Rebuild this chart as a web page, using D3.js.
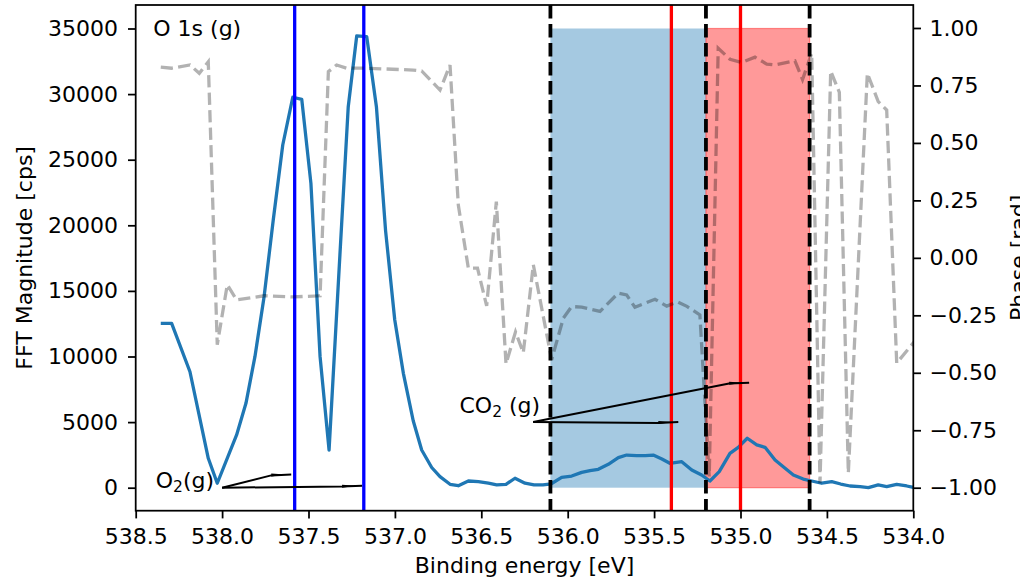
<!DOCTYPE html>
<html>
<head>
<meta charset="utf-8">
<script src="https://cdn.jsdelivr.net/npm/d3@7"></script>
<style>
  body { margin: 0; background: #fff; }
  svg { display: block; font-family: "DejaVu Sans", sans-serif; }
</style>
</head>
<body>
<div id="graph"></div>
<script>
// FFT magnitude spectrum (binding energy in eV, magnitude in cps)
var specEnergy = [538.355, 538.292, 538.186, 538.080, 538.028, 537.916, 537.862, 537.810, 537.757, 537.704,
                  537.649, 537.591, 537.539, 537.486, 537.433, 537.381, 537.322, 537.270, 537.221, 537.163,
                  537.107, 537.054, 537.001, 536.951, 536.894, 536.845, 536.787, 536.739, 536.681, 536.633,
                  536.575, 536.517, 536.459, 536.411, 536.357, 536.305, 536.247, 536.195, 536.143, 536.095,
                  536.035, 535.977, 535.919, 535.871, 535.823, 535.765, 535.707, 535.659, 535.601, 535.551,
                  535.505, 535.455, 535.409, 535.340, 535.282, 535.225, 535.177, 535.123, 535.061, 535.013,
                  534.961, 534.906, 534.858, 534.800, 534.742, 534.694, 534.637, 534.588, 534.530, 534.472,
                  534.420, 534.366, 534.308, 534.260, 534.203, 534.154, 534.096, 534.038, 533.990]
var specCps    = [12530, 12530, 8840, 2240, 340, 4020, 6430, 9990, 14560, 20400,
                  26120, 29760, 29600, 23200, 9990, 2870, 16850, 29040, 34430, 34380,
                  29040, 19600, 12800, 8720, 5100, 2870, 1540, 840, 260, 150,
                  510, 460, 340, 210, 260, 720, 340, 210, 220, 300,
                  790, 890, 1170, 1300, 1400, 1780, 2290, 2490, 2440, 2440,
                  2490, 2190, 1860, 1980, 1350, 970, 510, 1220, 2620, 3080,
                  3770, 3260, 3080, 2110, 1480, 970, 660, 510, 340, 460,
                  280, 130, 80, 0, 210, 80, 260, 130, 0]

// phase (right axis, rad)
var phaseEnergy = [538.355, 538.292, 538.186, 538.132, 538.080, 538.028, 537.970, 537.916, 537.757, 537.591,
                   537.433, 537.385, 537.337, 537.279, 537.163, 536.894, 536.845, 536.739, 536.681, 536.633,
                   536.575, 536.522, 536.469, 536.413, 536.357, 536.302, 536.257, 536.199, 536.093, 536.025,
                   535.977, 535.919, 535.813, 535.707, 535.659, 535.611, 535.495, 535.427, 535.365, 535.310,
                   535.235, 535.181, 535.129, 535.061, 534.993, 534.916, 534.848, 534.800, 534.685, 534.641,
                   534.588, 534.540, 534.478, 534.428, 534.376, 534.266, 534.203, 534.154, 534.096, 533.990]
var phaseRad    = [0.830, 0.825, 0.839, 0.803, 0.853, -0.378, -0.117, -0.183, -0.165, -0.170,
                   -0.165, 0.810, 0.839, 0.825, 0.825, 0.817, 0.813, 0.730, 0.839, 0.230,
                   -0.045, -0.045, -0.209, 0.245, -0.461, -0.322, -0.413, -0.030, -0.443, -0.262,
                   -0.212, -0.214, -0.233, -0.153, -0.161, -0.215, -0.180, -0.210, -0.191, -0.211,
                   -0.248, -0.951, 0.912, 0.864, 0.850, 0.873, 0.843, 0.839, 0.857, 0.776,
                   0.890, -0.980, 0.813, 0.720, -0.936, 0.803, 0.680, 0.643, -0.458, -0.361]

// marker lines (eV)
var o2Peaks     = [537.58, 537.18]
var co2Peaks    = [535.4, 535.0]
var regionEdges = [536.1, 535.2, 534.6]
var regionTop   = 35000

// annotations: label anchor and arrow targets (eV, cps)
var o2Anchor   = [538.0, 0]
var o2Targets  = [[537.6, 1000], [537.19, 150]]
var co2Anchor  = [536.2, 5000]
var co2Targets = [[535.36, 5000], [534.95, 8000]]

var xTicks     = [538.5, 538.0, 537.5, 537.0, 536.5, 536.0, 535.5, 535.0, 534.5, 534.0]
var leftTicks  = [0, 5000, 10000, 15000, 20000, 25000, 30000, 35000]
var rightTicks = [-1.0, -0.75, -0.5, -0.25, 0.0, 0.25, 0.5, 0.75, 1.0]

var width = 1020, height = 582
var pL = 135.7, pR = 913.3, pT = 5, pB = 510.7

var svg = d3.select("#graph").append("svg")
            .attr("width", width).attr("height", height)

var x  = d3.scaleLinear().domain([538.5, 534.0]).range([pL, pR])
var yL = d3.scaleLinear().domain([-1753, 36791]).range([pB, pT])
var yR = d3.scaleLinear().domain([-1.1, 1.1]).range([pB, pT])

svg.append("clipPath").attr("id", "plotClip")
   .append("rect").attr("x", pL).attr("y", pT)
   .attr("width", pR - pL).attr("height", pB - pT)

var plot = svg.append("g").attr("clip-path", "url(#plotClip)")

// shaded regions
var regionFill = ["rgba(31,119,180,0.4)", "rgba(255,0,0,0.4)"]
d3.pairs(regionEdges).forEach(function(p, i) {
    plot.append("rect")
        .attr("x", x(p[0])).attr("width", x(p[1]) - x(p[0]))
        .attr("y", yL(regionTop)).attr("height", yL(0) - yL(regionTop))
        .attr("fill", regionFill[i])
        .attr("stroke", i == 1 ? "rgba(255,0,0,0.4)" : "none")
        .attr("stroke-width", 1.2)
})

// spectrum
var line = d3.line().x(function(d) { return x(d[0]) }).y(function(d) { return yL(d[1]) })
plot.append("path")
    .datum(d3.zip(specEnergy, specCps))
    .attr("d", line)
    .attr("fill", "none")
    .attr("stroke", "#1f77b4")
    .attr("stroke-width", 3.3)
    .attr("stroke-linejoin", "round")

// vertical marker lines
function vline(v, color, dash, w) {
    plot.append("line")
        .attr("x1", x(v)).attr("x2", x(v))
        .attr("y1", pT).attr("y2", pB)
        .attr("stroke", color)
        .attr("stroke-width", w)
        .attr("stroke-dasharray", dash)
}
o2Peaks.forEach(function(v) { vline(v, "#0000ff", null, 3.3) })
regionEdges.forEach(function(v) { vline(v, "#000000", "13.5,5.5", 3.8) })
co2Peaks.forEach(function(v) { vline(v, "#ff0000", null, 3.3) })

// annotations
function arrow(from, to) {
    var sx = x(from[0]), sy = yL(from[1])
    var tx = x(to[0]), ty = yL(to[1])
    var bx = tx - 20, by = ty + 0.8
    svg.append("path")
       .attr("d", "M" + [sx, sy] + "L" + [bx, by] + "L" + [tx, ty])
       .attr("fill", "none").attr("stroke", "#000").attr("stroke-width", 2)
       .attr("stroke-linejoin", "round")
    svg.append("path")
       .attr("d", "M" + [bx, by - 1.8] + "L" + [bx + 14, ty] + "L" + [bx, by + 1.2] + "Z")
       .attr("fill", "#000")
}
o2Targets.forEach(function(t) { arrow(o2Anchor, t) })
co2Targets.forEach(function(t) { arrow(co2Anchor, t) })

function chemLabel(px, py, a, b, c) {
    var t = svg.append("text").attr("x", px).attr("y", py)
               .attr("text-anchor", "end").attr("font-size", 22).attr("fill", "#000")
    t.append("tspan").text(a)
    t.append("tspan").attr("font-size", 15.5).attr("dy", 4.5).text(b)
    t.append("tspan").attr("dy", -4.5).text(c)
}
chemLabel(x(o2Anchor[0]) - 8, yL(o2Anchor[1]), "O", "2", "(g)")
chemLabel(x(co2Anchor[0]) + 7, yL(co2Anchor[1]) - 9.5, "CO", "2", "\u00a0(g)")

// phase (twin axis, drawn on top)
var phaseLine = d3.line().x(function(d) { return x(d[0]) }).y(function(d) { return yR(d[1]) })
plot.append("path")
    .datum(d3.zip(phaseEnergy, phaseRad))
    .attr("d", phaseLine)
    .attr("fill", "none")
    .attr("stroke", "rgba(0,0,0,0.3)")
    .attr("stroke-width", 3.3)
    .attr("stroke-dasharray", "12.2,5.3")

// axes
var fmtMinus = function(f) { return function(d) { return f(d).replace("-", "\u2212") } }

var xAxis = svg.append("g").attr("transform", "translate(0," + pB + ")")
   .call(d3.axisBottom(x).tickValues(xTicks).tickFormat(d3.format(".1f"))
           .tickSize(7.7).tickPadding(9.9).tickSizeOuter(0))
var lAxis = svg.append("g").attr("transform", "translate(" + pL + ",0)")
   .call(d3.axisLeft(yL).tickValues(leftTicks).tickFormat(d3.format("d"))
           .tickSize(7.7).tickPadding(10).tickSizeOuter(0))
var rAxis = svg.append("g").attr("transform", "translate(" + pR + ",0)")
   .call(d3.axisRight(yR).tickValues(rightTicks).tickFormat(fmtMinus(d3.format(".2f")))
           .tickSize(7.7).tickPadding(8.5).tickSizeOuter(0))

;[xAxis, lAxis, rAxis].forEach(function(a) {
    a.select(".domain").remove()
    a.selectAll("line").attr("stroke", "#000").attr("stroke-width", 1.76)
    a.selectAll("text").attr("font-size", 22).attr("font-family", "DejaVu Sans").attr("fill", "#000")
})

svg.append("rect")
   .attr("x", pL).attr("y", pT)
   .attr("width", pR - pL).attr("height", pB - pT)
   .attr("fill", "none").attr("stroke", "#000").attr("stroke-width", 1.76)

// texts
svg.append("text").attr("x", 153.3).attr("y", 35.7)
   .attr("font-size", 22).text("O 1s (g)")

svg.append("text").attr("x", (pL + pR) / 2).attr("y", 573)
   .attr("text-anchor", "middle").attr("font-size", 22).text("Binding energy [eV]")

svg.append("text").attr("transform", "translate(32," + (pT + pB) / 2 + ") rotate(-90)")
   .attr("text-anchor", "middle").attr("font-size", 22).text("FFT Magnitude [cps]")

// right label sits mostly outside the picture, only its top edge shows
svg.append("text").attr("transform", "translate(1025.5," + (pT + pB) / 2 + ") rotate(-90)")
   .attr("text-anchor", "middle").attr("font-size", 22).text("Phase [rad]")
</script>
</body>
</html>
